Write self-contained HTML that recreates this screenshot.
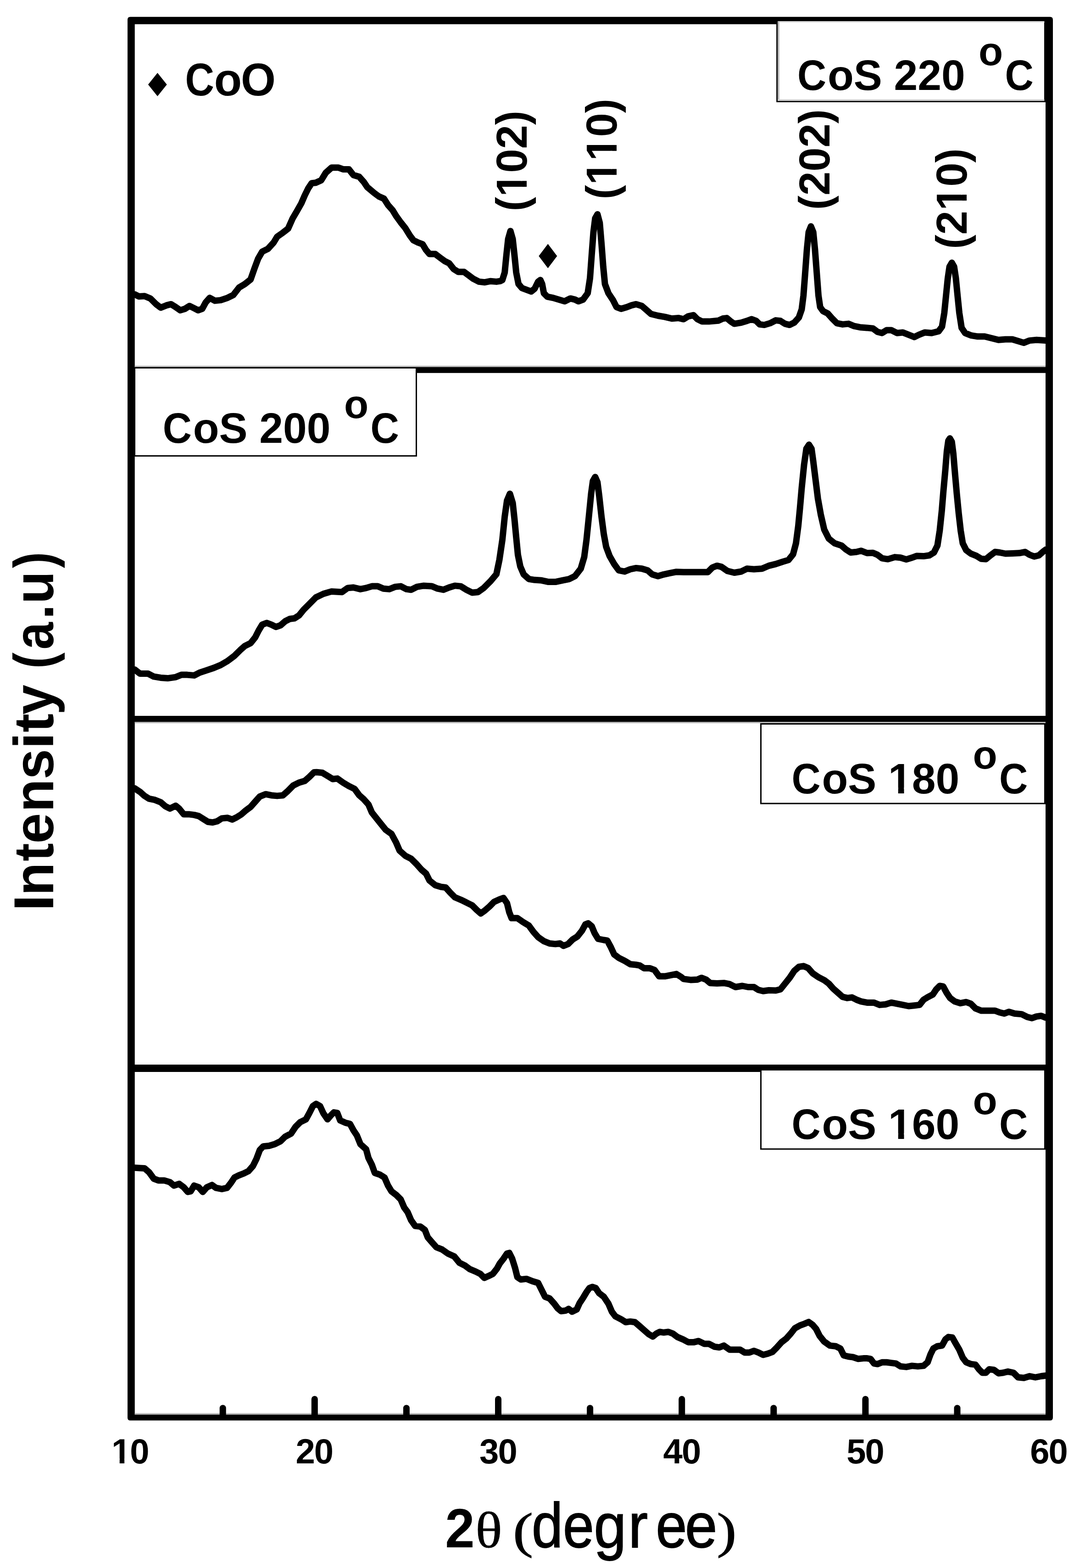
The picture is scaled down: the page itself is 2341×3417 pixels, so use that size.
<!DOCTYPE html>
<html lang="en"><head><meta charset="utf-8"><title>XRD patterns of CoS prepared at 160-220 °C</title>
<style>html,body{margin:0;padding:0;background:#fff}body{width:2341px;height:3417px;overflow:hidden}svg{display:block}text{font-family:"Liberation Sans",sans-serif;fill:#000;white-space:pre;font-kerning:none}.b{font-weight:bold}.s{font-family:"Liberation Serif",serif;font-weight:normal}.r{font-weight:normal}.cv{fill:none;stroke:#000;stroke-width:14;stroke-linejoin:round;stroke-linecap:round}.bx{fill:#fff;stroke:#1a1a1a;stroke-width:2}.tk{fill:none;stroke:#000;stroke-width:14;stroke-linecap:round}.w{fill:#fff}</style></head><body>
<svg width="2341" height="3417" viewBox="0 0 2341 3417">
<rect width="2341" height="3417" fill="#fff"/>
<path fill="#000" fill-rule="evenodd" d="M284.0 36.8 H2288.9 Q2294.9 36.8 2294.9 42.8 V3089.6 Q2294.9 3095.6 2288.9 3095.6 H284.0 Q278.0 3095.6 278.0 3089.6 V42.8 Q278.0 36.8 284.0 36.8 Z M293.5 52.7 H2279.0 V3082.4 H293.5 Z"/>
<rect x="292.5" y="800.0" width="1987.5" height="12.8" fill="#000"/>
<rect x="292.5" y="797.0" width="1987.5" height="3.0" fill="#b4b4b4"/>
<rect x="292.5" y="1560.0" width="1987.5" height="13.2" fill="#000"/>
<rect x="292.5" y="1573.2" width="1987.5" height="2.8" fill="#b4b4b4"/>
<rect x="292.5" y="2320.0" width="1987.5" height="16.0" fill="#000"/>
<rect x="292.5" y="3079.6" width="1987.5" height="3" fill="#b8b8b8"/>
<path class="tk" d="M685.8 3049 V3085"/>
<path class="tk" d="M1086.0 3049 V3085"/>
<path class="tk" d="M1486.2 3049 V3085"/>
<path class="tk" d="M1886.4 3049 V3085"/>
<path class="tk" d="M485.7 3068.5 V3085"/>
<path class="tk" d="M885.9 3068.5 V3085"/>
<path class="tk" d="M1286.1 3068.5 V3085"/>
<path class="tk" d="M1686.3 3068.5 V3085"/>
<path class="tk" d="M2086.5 3068.5 V3085"/>
<path class="cv" d="M293.8 641.6 L302.6 646.1 L315.1 645.3 L327.7 650.4 L340.3 662.9 L350.3 670.5 L362.9 665.4 L372.9 662.9 L383.0 669.2 L393.0 676.2 L403.1 673.0 L413.1 666.7 L423.2 671.7 L432.0 676.2 L440.8 673.0 L448.3 659.1 L457.1 649.1 L468.4 655.4 L481.0 654.1 L496.0 649.1 L508.6 642.8 L521.2 626.5 L533.7 618.9 L546.3 608.9 L555.1 583.8 L562.6 563.7 L571.4 548.6 L584.0 542.3 L596.5 528.5 L604.1 515.9 L616.6 507.1 L627.9 498.3 L638.0 475.7 L646.8 460.7 L656.8 443.1 L664.4 425.5 L671.9 410.4 L679.4 399.1 L688.5 398.2 L700.1 392.8 L710.1 376.5 L722.7 365.2 L737.7 365.2 L747.8 368.9 L760.4 368.9 L770.4 381.5 L783.0 385.3 L793.0 396.6 L800.6 407.9 L815.6 420.5 L825.7 428.0 L837.0 433.0 L845.8 446.8 L855.8 458.1 L863.4 470.7 L873.4 484.5 L883.5 497.1 L893.5 513.4 L901.1 523.5 L911.1 528.5 L921.2 532.3 L928.7 544.8 L936.2 553.6 L948.8 553.6 L958.8 561.2 L968.9 568.7 L978.9 573.7 L989.0 586.3 L999.0 592.6 L1011.6 592.6 L1021.7 600.1 L1031.7 607.6 L1044.3 613.9 L1056.8 615.2 L1069.4 612.7 L1082.0 613.9 L1090.0 612.7 L1095.0 610.2 L1100.1 593.8 L1103.8 556.1 L1107.6 521.0 L1112.6 503.4 L1117.6 521.0 L1121.4 556.1 L1125.2 593.8 L1130.2 618.9 L1137.7 627.7 L1147.8 631.5 L1157.8 635.3 L1165.4 629.0 L1172.9 613.9 L1177.9 610.2 L1181.7 618.9 L1185.5 639.0 L1193.0 646.6 L1205.6 649.1 L1218.1 652.9 L1230.7 656.6 L1243.3 650.4 L1253.3 652.9 L1260.9 656.6 L1270.9 652.9 L1281.0 639.0 L1286.0 606.4 L1289.7 556.1 L1293.5 505.9 L1297.3 475.7 L1302.3 466.9 L1307.3 485.8 L1311.1 531.0 L1314.9 581.3 L1318.6 618.9 L1326.2 639.0 L1336.2 654.1 L1343.8 669.2 L1353.8 673.0 L1366.4 669.2 L1376.4 665.4 L1386.5 662.9 L1399.0 666.7 L1409.1 675.5 L1419.1 684.3 L1434.2 688.0 L1449.3 690.6 L1464.4 694.3 L1479.4 693.1 L1490.0 695.6 L1500.1 689.3 L1511.4 686.8 L1520.2 695.6 L1530.2 700.6 L1545.3 700.6 L1565.4 698.8 L1575.4 694.3 L1584.2 693.1 L1593.0 700.6 L1600.6 705.6 L1615.6 703.1 L1628.2 699.3 L1638.2 695.6 L1648.3 699.3 L1655.8 706.9 L1665.9 708.1 L1678.4 704.4 L1691.0 698.1 L1701.1 699.3 L1711.1 705.6 L1721.2 708.1 L1731.2 703.1 L1741.3 691.8 L1747.5 674.2 L1751.3 644.1 L1755.1 593.8 L1758.8 543.6 L1762.6 505.9 L1767.6 493.3 L1772.7 505.9 L1776.4 543.6 L1780.2 593.8 L1784.0 644.1 L1787.7 669.2 L1794.0 678.0 L1804.1 683.0 L1814.1 694.3 L1824.2 704.4 L1836.7 706.9 L1849.3 705.6 L1861.9 710.7 L1874.4 713.2 L1890.0 714.4 L1902.6 715.7 L1912.6 723.2 L1922.7 725.7 L1932.7 719.4 L1942.8 719.4 L1955.3 725.7 L1967.9 724.5 L1980.5 729.5 L1993.0 734.5 L2003.1 729.5 L2015.6 724.5 L2030.7 725.7 L2045.8 722.0 L2053.3 711.9 L2058.3 681.8 L2062.1 644.1 L2065.9 606.4 L2069.6 581.3 L2074.7 572.5 L2079.7 581.3 L2083.5 606.4 L2087.2 644.1 L2091.0 681.8 L2096.0 714.4 L2103.6 725.7 L2116.1 730.8 L2131.2 733.3 L2146.3 733.3 L2161.4 737.0 L2176.4 740.8 L2191.5 739.5 L2206.6 739.5 L2219.1 743.3 L2231.7 747.1 L2244.3 742.1 L2259.3 740.8 L2279.4 742.1"/>
<path class="cv" d="M293.8 1459.3 L305.1 1468.1 L322.7 1468.1 L335.2 1474.4 L350.3 1476.9 L365.4 1478.1 L383.0 1475.6 L395.5 1470.6 L408.1 1470.6 L423.2 1471.9 L435.7 1465.6 L450.8 1460.6 L465.9 1455.5 L481.0 1449.2 L496.0 1440.5 L511.1 1429.1 L523.7 1416.6 L533.7 1407.8 L546.3 1401.5 L556.3 1388.9 L563.9 1373.9 L571.4 1361.3 L581.5 1357.5 L591.5 1361.3 L601.6 1366.3 L611.6 1362.6 L621.7 1353.8 L631.7 1348.7 L641.8 1347.5 L651.8 1341.2 L661.9 1328.6 L674.4 1316.1 L688.5 1301.9 L705.1 1294.0 L722.7 1288.9 L745.3 1290.2 L757.8 1281.4 L770.4 1280.2 L785.5 1283.9 L798.0 1281.4 L810.6 1277.6 L823.2 1277.6 L835.7 1282.7 L848.3 1283.9 L860.9 1278.9 L873.4 1277.6 L886.0 1283.9 L896.0 1285.2 L908.6 1278.9 L923.7 1276.4 L941.3 1277.6 L953.8 1282.7 L966.4 1285.2 L978.9 1280.2 L991.5 1276.4 L1004.1 1277.6 L1016.6 1285.2 L1029.2 1291.5 L1041.8 1290.2 L1054.3 1281.4 L1069.4 1266.3 L1082.0 1251.3 L1088.5 1220.1 L1095.0 1176.4 L1100.1 1126.1 L1105.1 1091.0 L1111.4 1075.9 L1117.6 1096.0 L1121.4 1131.2 L1125.2 1171.4 L1128.9 1209.0 L1134.0 1234.2 L1141.5 1251.8 L1152.8 1261.8 L1165.4 1263.8 L1180.5 1264.8 L1195.5 1268.1 L1210.6 1268.1 L1225.7 1264.8 L1240.8 1261.8 L1253.3 1255.5 L1265.9 1239.2 L1273.4 1214.1 L1278.4 1176.4 L1283.5 1126.1 L1288.5 1075.9 L1292.3 1048.2 L1297.3 1039.4 L1302.3 1050.8 L1306.1 1080.9 L1311.1 1126.1 L1316.1 1163.8 L1321.2 1191.5 L1328.7 1211.6 L1338.7 1229.1 L1348.8 1243.0 L1361.4 1245.5 L1373.9 1240.5 L1386.5 1237.9 L1399.0 1239.2 L1411.6 1243.0 L1421.7 1251.8 L1434.2 1255.5 L1446.8 1251.8 L1459.3 1249.2 L1474.4 1246.2 L1490.0 1246.7 L1510.1 1246.7 L1530.2 1246.7 L1542.8 1246.7 L1552.8 1236.7 L1562.9 1232.9 L1572.9 1235.4 L1585.5 1244.2 L1600.6 1248.0 L1615.6 1245.5 L1628.2 1239.2 L1643.3 1240.5 L1660.9 1239.2 L1675.9 1232.9 L1691.0 1229.1 L1706.1 1224.1 L1718.6 1220.4 L1728.7 1207.8 L1735.0 1183.9 L1740.0 1146.2 L1743.8 1106.0 L1747.5 1063.3 L1752.6 1013.1 L1757.6 977.9 L1763.4 969.1 L1768.9 977.9 L1772.7 1005.5 L1777.7 1045.7 L1782.7 1085.9 L1789.0 1121.1 L1796.5 1153.8 L1806.6 1173.9 L1819.1 1183.9 L1834.2 1188.9 L1844.3 1197.7 L1854.3 1204.0 L1866.9 1202.8 L1876.9 1200.3 L1890.0 1205.3 L1902.6 1204.8 L1912.6 1209.0 L1922.7 1216.6 L1935.2 1218.6 L1950.3 1214.1 L1962.9 1215.3 L1975.4 1219.1 L1988.0 1215.3 L1998.0 1211.6 L2013.1 1212.1 L2025.7 1210.3 L2035.7 1204.0 L2043.3 1188.9 L2048.3 1156.3 L2052.8 1113.6 L2056.3 1070.9 L2060.4 1025.6 L2063.9 982.9 L2067.1 960.3 L2070.4 955.3 L2074.7 962.8 L2077.9 987.9 L2081.5 1030.7 L2085.5 1075.9 L2089.7 1118.6 L2094.0 1156.3 L2098.5 1183.9 L2106.1 1199.0 L2116.1 1206.5 L2128.7 1211.6 L2138.7 1217.8 L2148.8 1218.6 L2158.8 1210.3 L2168.9 1202.8 L2178.9 1204.0 L2191.5 1206.5 L2206.6 1206.0 L2221.7 1205.3 L2234.2 1202.8 L2244.3 1209.0 L2254.3 1212.8 L2264.4 1210.3 L2274.4 1201.5 L2279.4 1197.7"/>
<path class="cv" d="M293.8 1718.1 L305.1 1725.6 L315.1 1734.4 L325.2 1740.7 L337.7 1743.2 L350.3 1748.2 L360.4 1757.0 L370.4 1762.1 L383.0 1755.8 L390.5 1762.1 L400.6 1774.6 L413.1 1774.6 L423.2 1775.9 L433.2 1778.4 L443.3 1784.7 L453.3 1791.0 L463.4 1792.2 L473.4 1789.7 L483.5 1783.4 L496.0 1782.2 L506.1 1785.9 L516.1 1780.9 L526.2 1774.6 L536.2 1765.8 L546.3 1758.3 L556.3 1747.0 L566.4 1735.7 L578.9 1730.7 L591.5 1733.2 L604.1 1734.4 L616.6 1733.2 L626.7 1724.4 L639.2 1711.8 L651.8 1705.5 L664.4 1701.8 L674.4 1693.0 L684.5 1682.9 L690.0 1682.8 L702.6 1684.0 L715.1 1691.6 L725.2 1697.8 L735.2 1696.6 L747.8 1705.4 L760.4 1712.9 L772.9 1719.2 L783.0 1733.0 L793.0 1741.8 L803.1 1753.1 L810.6 1770.7 L820.7 1783.3 L830.7 1795.8 L840.8 1808.4 L853.3 1817.2 L863.4 1836.0 L870.9 1853.6 L883.5 1864.9 L896.0 1871.2 L908.6 1883.8 L918.6 1895.1 L928.7 1903.9 L936.2 1918.9 L948.8 1929.0 L961.4 1932.8 L971.4 1934.0 L981.5 1945.3 L991.5 1955.4 L1006.6 1961.7 L1019.1 1967.9 L1029.2 1973.0 L1039.2 1983.0 L1048.0 1990.6 L1056.8 1984.3 L1066.9 1975.5 L1076.9 1965.4 L1088.5 1960.1 L1097.5 1956.8 L1105.1 1968.1 L1110.1 1988.2 L1115.1 2000.8 L1127.7 2000.8 L1140.3 2009.5 L1152.8 2017.1 L1162.9 2030.9 L1172.9 2042.2 L1185.5 2051.0 L1198.0 2056.0 L1210.6 2057.3 L1220.7 2056.0 L1228.2 2061.1 L1238.2 2057.3 L1248.3 2047.2 L1258.3 2041.0 L1268.4 2028.4 L1275.9 2014.6 L1282.2 2012.1 L1289.7 2018.3 L1296.0 2033.4 L1303.6 2046.0 L1316.1 2048.5 L1323.7 2049.7 L1331.2 2063.6 L1338.7 2079.9 L1348.8 2087.4 L1361.4 2093.7 L1373.9 2101.3 L1386.5 2102.5 L1394.0 2103.8 L1404.1 2110.1 L1416.6 2110.1 L1426.7 2113.8 L1436.7 2127.6 L1449.3 2127.6 L1461.9 2125.1 L1474.4 2122.6 L1484.5 2128.9 L1490.0 2133.4 L1505.1 2135.4 L1520.2 2134.7 L1528.9 2130.9 L1539.0 2134.7 L1547.8 2142.2 L1562.9 2143.0 L1577.9 2142.2 L1590.5 2144.7 L1603.1 2151.0 L1618.1 2148.5 L1630.7 2151.0 L1643.3 2151.0 L1653.3 2157.3 L1663.4 2159.8 L1675.9 2158.0 L1691.0 2158.5 L1701.1 2156.0 L1711.1 2143.5 L1721.2 2130.9 L1731.2 2115.8 L1741.3 2107.0 L1751.3 2105.3 L1761.4 2109.5 L1771.4 2120.9 L1784.0 2129.6 L1796.5 2135.9 L1806.6 2143.5 L1816.6 2154.8 L1826.7 2163.6 L1836.7 2172.4 L1846.8 2174.9 L1856.8 2173.6 L1866.9 2178.6 L1876.9 2182.4 L1890.0 2184.9 L1905.1 2184.9 L1917.6 2189.9 L1930.2 2188.7 L1942.8 2184.9 L1955.3 2187.4 L1967.9 2189.9 L1980.5 2192.5 L1993.0 2191.2 L2004.3 2189.9 L2013.1 2178.6 L2023.2 2172.4 L2033.2 2167.3 L2040.8 2156.0 L2048.3 2148.5 L2055.8 2149.7 L2063.4 2163.6 L2070.9 2174.9 L2081.0 2182.4 L2093.5 2186.2 L2106.1 2183.7 L2116.1 2187.4 L2126.2 2197.5 L2138.7 2202.5 L2153.8 2202.5 L2168.9 2202.5 L2178.9 2206.3 L2189.0 2208.8 L2199.0 2205.0 L2211.6 2208.8 L2226.7 2210.1 L2239.2 2216.3 L2249.3 2218.8 L2259.3 2215.1 L2269.4 2213.8 L2279.4 2217.6"/>
<path class="cv" d="M293.8 2544.7 L305.1 2545.5 L315.1 2546.0 L325.2 2554.8 L335.2 2568.6 L345.3 2572.4 L357.8 2572.4 L370.4 2576.1 L379.2 2583.7 L390.5 2579.9 L400.6 2587.4 L409.3 2597.5 L415.6 2596.2 L423.2 2583.7 L433.2 2587.4 L442.0 2597.5 L450.8 2587.4 L462.1 2582.4 L470.9 2588.7 L483.5 2591.2 L494.8 2588.7 L503.6 2577.4 L511.1 2566.1 L521.2 2561.1 L531.2 2557.3 L541.3 2552.3 L551.3 2541.0 L558.8 2525.9 L566.4 2505.8 L573.9 2498.2 L586.5 2497.0 L599.0 2493.2 L611.6 2486.9 L621.7 2476.9 L634.2 2470.6 L644.3 2455.5 L654.3 2445.5 L666.9 2439.2 L674.4 2425.4 L682.0 2410.3 L689.1 2405.7 L697.5 2410.3 L705.1 2426.6 L713.9 2439.2 L721.4 2430.4 L727.7 2424.1 L735.2 2425.4 L741.5 2441.7 L752.8 2446.7 L762.9 2449.2 L770.4 2463.1 L777.9 2474.4 L785.5 2493.2 L798.0 2504.5 L803.1 2523.4 L810.6 2538.4 L816.9 2556.0 L828.2 2559.8 L838.2 2566.1 L845.8 2583.7 L853.3 2596.2 L863.4 2603.8 L873.4 2613.8 L881.0 2631.4 L888.5 2641.5 L896.0 2659.0 L904.8 2671.6 L916.1 2672.9 L926.2 2680.4 L932.5 2696.7 L941.3 2706.8 L951.3 2718.1 L963.9 2723.1 L976.4 2731.9 L990.3 2738.2 L1001.6 2752.0 L1014.1 2758.3 L1024.2 2765.8 L1036.7 2770.9 L1046.8 2775.9 L1055.6 2784.7 L1064.4 2780.9 L1074.4 2775.9 L1083.2 2764.6 L1089.1 2753.8 L1097.5 2743.0 L1105.1 2731.7 L1110.1 2730.4 L1116.4 2743.0 L1122.7 2763.1 L1127.7 2783.2 L1135.2 2788.2 L1147.8 2786.9 L1160.4 2792.0 L1172.9 2795.7 L1180.5 2810.8 L1188.0 2825.9 L1198.0 2829.6 L1208.1 2841.0 L1215.6 2851.0 L1223.2 2857.3 L1233.2 2856.0 L1239.5 2852.3 L1247.0 2858.5 L1257.1 2853.5 L1263.4 2839.7 L1270.9 2828.4 L1278.4 2815.8 L1284.7 2807.0 L1291.0 2804.5 L1298.5 2807.0 L1306.1 2818.3 L1316.1 2825.9 L1326.2 2841.0 L1333.7 2858.5 L1341.3 2868.6 L1353.8 2874.9 L1363.9 2881.2 L1373.9 2879.9 L1384.0 2881.2 L1394.0 2889.9 L1404.1 2898.7 L1414.1 2907.5 L1422.9 2912.6 L1430.5 2906.3 L1438.0 2902.5 L1446.8 2903.8 L1456.8 2902.5 L1466.9 2906.3 L1476.9 2913.8 L1488.5 2918.7 L1500.1 2924.9 L1512.6 2924.9 L1522.7 2922.4 L1535.2 2928.6 L1545.3 2928.6 L1557.8 2934.9 L1567.9 2936.2 L1577.9 2932.4 L1590.5 2941.2 L1603.1 2941.2 L1613.1 2941.2 L1623.2 2947.5 L1633.2 2947.5 L1643.3 2943.7 L1653.3 2947.5 L1663.4 2952.5 L1673.4 2950.0 L1683.5 2946.2 L1693.5 2936.2 L1703.6 2924.9 L1713.6 2917.3 L1723.7 2906.0 L1732.5 2894.7 L1743.8 2888.4 L1753.8 2884.7 L1762.6 2880.9 L1771.4 2887.2 L1778.9 2896.0 L1786.5 2911.1 L1796.5 2923.6 L1809.1 2932.4 L1821.7 2933.7 L1831.7 2938.7 L1839.2 2953.8 L1849.3 2956.3 L1859.3 2957.5 L1870.7 2961.3 L1882.0 2960.1 L1890.0 2960.1 L1897.5 2961.3 L1905.1 2971.4 L1912.6 2972.6 L1922.7 2968.8 L1932.7 2968.8 L1942.8 2970.1 L1952.8 2971.4 L1962.9 2977.6 L1975.4 2978.9 L1988.0 2976.4 L2000.6 2977.6 L2013.1 2976.4 L2021.9 2968.8 L2028.2 2951.3 L2034.5 2938.7 L2043.3 2933.7 L2053.3 2932.4 L2060.9 2918.6 L2067.1 2913.6 L2075.9 2914.8 L2082.2 2926.1 L2091.0 2941.2 L2098.5 2958.8 L2106.1 2968.8 L2116.1 2972.6 L2126.2 2973.9 L2133.7 2983.9 L2141.3 2991.5 L2148.8 2991.5 L2156.3 2983.9 L2166.4 2985.2 L2176.4 2992.7 L2186.5 2991.5 L2196.5 2988.9 L2209.1 2991.5 L2219.1 3001.5 L2231.7 3002.8 L2244.3 2999.0 L2256.8 3001.5 L2269.4 2999.0 L2279.4 2997.7"/>
<rect fill="#fff" stroke="#000" stroke-width="3" x="1693.7" y="44.7" width="583.8" height="176.5"/>
<rect fill="#fff" stroke="#000" stroke-width="3" x="293.5" y="801.5" width="614.0" height="192.0"/>
<rect fill="#fff" stroke="#000" stroke-width="3" x="1658.5" y="1577.5" width="619.0" height="173.5"/>
<rect fill="#fff" stroke="#000" stroke-width="3" x="1658.5" y="2331.3" width="619.0" height="172.7"/>
<rect x="1695.4" y="46.6" width="3.2" height="173" fill="#b0b0b0"/>
<rect x="1695.4" y="216.4" width="581" height="3.4" fill="#cfcfcf"/>
<rect x="1698.6" y="46.8" width="578" height="2.4" fill="#e0e0e0"/>
<rect x="2279.0" y="42.8" width="15.9" height="3046.8" fill="#000"/>
<rect x="278.0" y="42.8" width="15.5" height="3046.8" fill="#000"/>
<text class="b" font-size="93.0" y="196.0"><tspan x="1737.9" textLength="63.2" lengthAdjust="spacingAndGlyphs">C</tspan><tspan x="1803.9">oS 220 </tspan><tspan x="2133.1" dy="-54" font-size="87.0">o</tspan><tspan x="2190.6" textLength="62.3" lengthAdjust="spacingAndGlyphs" dy="54.0">C</tspan></text>
<text class="b" font-size="93.0" y="965.0"><tspan x="354.7" textLength="63.2" lengthAdjust="spacingAndGlyphs">C</tspan><tspan x="420.7">oS 200 </tspan><tspan x="749.9" dy="-54" font-size="87.0">o</tspan><tspan x="807.4" textLength="62.3" lengthAdjust="spacingAndGlyphs" dy="54.0">C</tspan></text>
<text class="b" font-size="93.0" y="1728.5"><tspan x="1725.4" textLength="63.2" lengthAdjust="spacingAndGlyphs">C</tspan><tspan x="1791.4">oS 180 </tspan><tspan x="2120.6" dy="-54" font-size="87.0">o</tspan><tspan x="2178.1" textLength="62.3" lengthAdjust="spacingAndGlyphs" dy="54.0">C</tspan></text>
<rect class="w" x="1940.58" y="1716.24" width="17.17" height="13.62"/><rect class="w" x="1970.51" y="1716.24" width="15.94" height="13.62"/>
<text class="b" font-size="93.0" y="2481.5"><tspan x="1725.4" textLength="63.2" lengthAdjust="spacingAndGlyphs">C</tspan><tspan x="1791.4">oS 160 </tspan><tspan x="2120.6" dy="-54" font-size="87.0">o</tspan><tspan x="2178.1" textLength="62.3" lengthAdjust="spacingAndGlyphs" dy="54.0">C</tspan></text>
<rect class="w" x="1940.58" y="2469.24" width="17.17" height="13.62"/><rect class="w" x="1970.51" y="2469.24" width="15.94" height="13.62"/>
<g transform="translate(1148.0 455.7) rotate(-90)"><text class="b" style="font-kerning:none" font-size="94.0" x="-4.7" y="0">(102)</text><rect class="w" x="31.21" y="-12.39" width="17.35" height="13.77"/><rect class="w" x="61.46" y="-12.39" width="16.11" height="13.77"/></g>
<g transform="translate(1344.0 429.7) rotate(-90)"><text class="b" style="font-kerning:none" font-size="94.0" x="-4.7" y="0">(110)</text><rect class="w" x="31.21" y="-12.39" width="17.35" height="13.77"/><rect class="w" x="61.46" y="-12.39" width="16.11" height="13.77"/><rect class="w" x="83.49" y="-12.39" width="17.35" height="13.77"/><rect class="w" x="113.74" y="-12.39" width="16.11" height="13.77"/></g>
<g transform="translate(1807.5 452.7) rotate(-90)"><text class="b" style="font-kerning:none" font-size="94.0" x="-4.7" y="0">(202)</text></g>
<g transform="translate(2107.4 538.0) rotate(-90)"><text class="b" style="font-kerning:none" font-size="94.0" x="-4.7" y="0">(210)</text><rect class="w" x="83.49" y="-12.39" width="17.35" height="13.77"/><rect class="w" x="113.74" y="-12.39" width="16.11" height="13.77"/></g>
<path d="M343.3 158.8 L363.7 184.3 L343.3 209.8 L322.9 184.3 Z" fill="#000"/>
<path d="M1194.3 531.5 L1214.3 558.0 L1194.3 584.5 L1174.3 558.0 Z" fill="#000"/>
<text class="b" font-size="100.0" y="208.0"><tspan x="403.4" textLength="63.4" lengthAdjust="spacingAndGlyphs">C</tspan><tspan x="466.8" textLength="60.4" lengthAdjust="spacingAndGlyphs">o</tspan><tspan x="525.0" textLength="75.9" lengthAdjust="spacingAndGlyphs">O</tspan></text>
<text class="b" font-size="76.0" x="243.0 283.3" y="3188.5">10</text>
<rect class="w" x="246.70" y="3178.48" width="14.03" height="11.13"/><rect class="w" x="271.16" y="3178.48" width="13.03" height="11.13"/>
<text class="b" font-size="76.0" x="644.5 684.7" y="3188.5">20</text>
<text class="b" font-size="76.0" x="1045.1 1085.4" y="3188.5">30</text>
<text class="b" font-size="76.0" x="1445.6 1485.9" y="3188.5">40</text>
<text class="b" font-size="76.0" x="1845.2 1885.5" y="3188.5">50</text>
<text class="b" font-size="76.0" x="2245.2 2285.5" y="3188.5">60</text>
<text class="b" font-size="123.0" transform="translate(116.2 1977) rotate(-90)" y="0"><tspan x="-8.7" textLength="36.1" lengthAdjust="spacingAndGlyphs">I</tspan><tspan x="25.2" textLength="72.1" lengthAdjust="spacingAndGlyphs">n</tspan><tspan x="100.1" textLength="39.7" lengthAdjust="spacingAndGlyphs">t</tspan><tspan x="138.6" textLength="66.9" lengthAdjust="spacingAndGlyphs">e</tspan><tspan x="207.2" textLength="72.1" lengthAdjust="spacingAndGlyphs">n</tspan><tspan x="278.5" textLength="66.4" lengthAdjust="spacingAndGlyphs">s</tspan><tspan x="343.9" textLength="37.7" lengthAdjust="spacingAndGlyphs">i</tspan><tspan x="381.0">t</tspan><tspan x="419.4" textLength="65.5" lengthAdjust="spacingAndGlyphs">y</tspan> <tspan x="519.7" textLength="35.4" lengthAdjust="spacingAndGlyphs">(</tspan><tspan x="561.5" textLength="59.6" lengthAdjust="spacingAndGlyphs">a</tspan><tspan x="627.4" textLength="32.3" lengthAdjust="spacingAndGlyphs">.</tspan><tspan x="661.0" textLength="71.1" lengthAdjust="spacingAndGlyphs">u</tspan><tspan x="738.9" textLength="35.4" lengthAdjust="spacingAndGlyphs">)</tspan></text>
<text y="3371.5"><tspan x="970.3" textLength="64.3" lengthAdjust="spacingAndGlyphs" class="b" font-size="120">2</tspan><tspan x="1036.3" textLength="58.4" lengthAdjust="spacingAndGlyphs" class="s" font-size="110" stroke="#000" stroke-width="0.8">θ</tspan> <tspan x="1118.0" textLength="44.0" lengthAdjust="spacingAndGlyphs" class="s" font-size="109" stroke="#000" stroke-width="1.2">(</tspan><tspan x="1158.9" textLength="68.0" lengthAdjust="spacingAndGlyphs" class="r" font-size="138" stroke="#000" stroke-width="1.8">d</tspan><tspan x="1227.1" textLength="67.8" lengthAdjust="spacingAndGlyphs" class="r" font-size="138" stroke="#000" stroke-width="1.8">e</tspan><tspan x="1294.4" textLength="70.7" lengthAdjust="spacingAndGlyphs" class="r" font-size="138" stroke="#000" stroke-width="1.8">g</tspan><tspan x="1369.5" textLength="42.7" lengthAdjust="spacingAndGlyphs" class="r" font-size="138" stroke="#000" stroke-width="1.8">r</tspan><tspan x="1429.5" textLength="67.8" lengthAdjust="spacingAndGlyphs" class="r" font-size="138" stroke="#000" stroke-width="1.8">e</tspan><tspan x="1493.1" textLength="70.4" lengthAdjust="spacingAndGlyphs" class="r" font-size="138" stroke="#000" stroke-width="1.8">e</tspan><tspan x="1562.5" textLength="42.8" lengthAdjust="spacingAndGlyphs" class="s" font-size="109" stroke="#000" stroke-width="1.2">)</tspan></text>
</svg></body></html>
